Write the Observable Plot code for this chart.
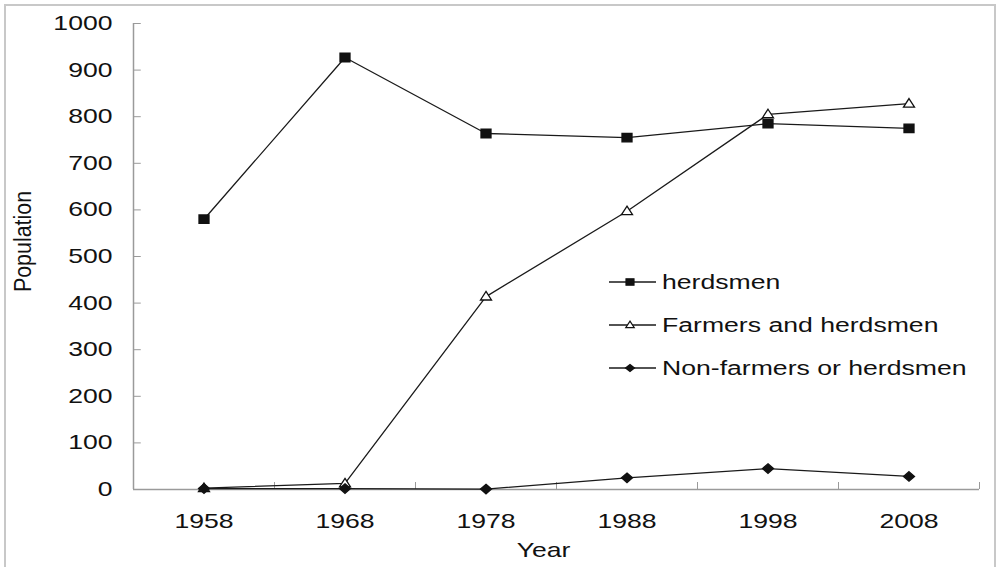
<!DOCTYPE html>
<html>
<head>
<meta charset="utf-8">
<script src="https://cdn.jsdelivr.net/npm/d3@7"></script>
<script src="https://cdn.jsdelivr.net/npm/@observablehq/plot@0.6"></script>
<style>
  html, body { margin: 0; padding: 0; background: #fff; }
  #wrap { position: relative; width: 999px; height: 567px; overflow: hidden; font-family: "Liberation Sans", Arial, sans-serif; }
  #frame { position: absolute; left: 4px; top: 4px; width: 992px; height: 600px; border: 2px solid #c8c8c8; box-sizing: border-box; pointer-events: none; }
  #legend { position: absolute; left: 0; top: 0; font-size: 20px; color: #111; }
  #legend .row { position: absolute; left: 608px; height: 20px; display: flex; align-items: center; white-space: nowrap; }
  #legend .row span { display: inline-block; transform: scaleX(1.33); transform-origin: left center; margin-left: 6px; }
  svg { overflow: visible; }
</style>
</head>
<body>
<div id="wrap"><div id="frame"></div><div id="legend"></div></div>
<script>
const years = [1958, 1968, 1978, 1988, 1998, 2008];
const herdsmen = [580, 927, 764, 755, 785, 775];
const farmersAndHerdsmen = [3, 13, 414, 597, 805, 828];
const nonFarmers = [2, 2, 1, 25, 45, 28];
const seriesNames = ["herdsmen", "Farmers and herdsmen", "Non-farmers or herdsmen"];
const yTicks = [0, 100, 200, 300, 400, 500, 600, 700, 800, 900, 1000];
const xBoundaries = [1953, 1963, 1973, 1983, 1993, 2003, 2013];

const seriesValues = [herdsmen, farmersAndHerdsmen, nonFarmers];
const data = [];
seriesValues.forEach((vals, s) => vals.forEach((v, i) => data.push({series: seriesNames[s], year: years[i], value: v})));

// horizontally stretched symbols (reference is stretched)
function rectSym(w, h) { return {draw(c) { c.moveTo(-w/2, -h/2); c.lineTo(w/2, -h/2); c.lineTo(w/2, h/2); c.lineTo(-w/2, h/2); c.closePath(); }}; }
function triSym(w, h) { return {draw(c) { c.moveTo(0, -h*0.6); c.lineTo(w/2, h*0.4); c.lineTo(-w/2, h*0.4); c.closePath(); }}; }
function diaSym(w, h) { return {draw(c) { c.moveTo(0, -h/2); c.lineTo(w/2, 0); c.lineTo(0, h/2); c.lineTo(-w/2, 0); c.closePath(); }}; }

const plotSymbols = [rectSym(10, 8.5), triSym(11, 8.5), diaSym(11, 9.5)];
const legendSymbols = [rectSym(8, 6.5), triSym(8.5, 6.5), diaSym(9, 7)];
const symbolFills = ["#111", "#fff", "#111"];

const axisColor = "#9a9a9a";
const marks = [
  Plot.ruleX([1953], {stroke: axisColor, strokeWidth: 1.5}),
  Plot.ruleY([0], {stroke: axisColor, strokeWidth: 1.5}),
  Plot.ruleY(yTicks, {x1: 1953, x2: 1953.55, stroke: axisColor, strokeWidth: 1}),
  Plot.ruleX(xBoundaries, {y1: 0, y2: 15, stroke: axisColor, strokeWidth: 1}),
  Plot.axisY(yTicks, {tickSize: 0, tickPadding: 21, fontSize: 20, tickFormat: d => String(d), label: "Population", labelAnchor: "center", labelArrow: "none", labelOffset: 120}),
  Plot.axisX(years, {tickSize: 0, tickPadding: 24, fontSize: 20, tickFormat: d => String(d), label: "Year", labelAnchor: "center", labelArrow: "none", labelOffset: 67}),
  Plot.line(data, {x: "year", y: "value", z: "series", stroke: "#1a1a1a", strokeWidth: 1.3})
];
seriesNames.forEach((name, s) => {
  marks.push(Plot.dot(data.filter(d => d.series === name), {
    x: "year", y: "value", symbol: plotSymbols[s], r: 5,
    fill: symbolFills[s], stroke: "#111", strokeWidth: 1.3
  }));
});

const chart = Plot.plot({
  width: 999,
  height: 567,
  marginLeft: 133,
  marginRight: 20,
  marginTop: 23,
  marginBottom: 78,
  style: {fontFamily: "'Liberation Sans', Arial, sans-serif", color: "#111", background: "transparent", fontSize: "20px"},
  x: {domain: [1953, 2013], label: null},
  y: {domain: [0, 1000], label: null},
  marks
});
chart.style.position = "absolute";
chart.style.left = "0px";
chart.style.top = "0px";
document.getElementById("wrap").insertBefore(chart, document.getElementById("frame"));

// stretch text horizontally like the reference
const SX = 1.33;
d3.select(chart).selectAll("text").each(function() {
  const t = d3.select(this);
  const tr = t.attr("transform") || "";
  const x = +(t.attr("x") || 0);
  if (/rotate/.test(tr)) {
    t.attr("transform", "translate(0,-15) " + tr + " scale(1.07,1.2)");
  } else {
    t.attr("transform", tr + ` translate(${x},0) scale(${SX},1) translate(${-x},0)`);
  }
});
// nudge "Year" label to match reference centre
d3.select(chart).selectAll("text").filter(function() { return this.textContent === "Year"; })
  .each(function() { const t = d3.select(this); t.attr("transform", "translate(-13,0) " + (t.attr("transform") || "")); });

// legend
const legend = document.getElementById("legend");
const rowCenters = [282, 325, 368];
seriesNames.forEach((name, s) => {
  const row = document.createElement("div");
  row.className = "row";
  row.style.top = (rowCenters[s] - 10) + "px";
  const sw = d3.create("svg").attr("width", 48).attr("height", 16);
  sw.append("line").attr("x1", 1).attr("x2", 48).attr("y1", 8).attr("y2", 8).attr("stroke", "#1a1a1a").attr("stroke-width", 1.5);
  const p = d3.path();
  legendSymbols[s].draw(p);
  sw.append("path").attr("d", p.toString()).attr("transform", "translate(22,8)")
    .attr("fill", symbolFills[s]).attr("stroke", "#111").attr("stroke-width", 1.2);
  row.appendChild(sw.node());
  const t = document.createElement("span");
  t.textContent = name;
  row.appendChild(t);
  legend.appendChild(row);
});
</script>
</body>
</html>
